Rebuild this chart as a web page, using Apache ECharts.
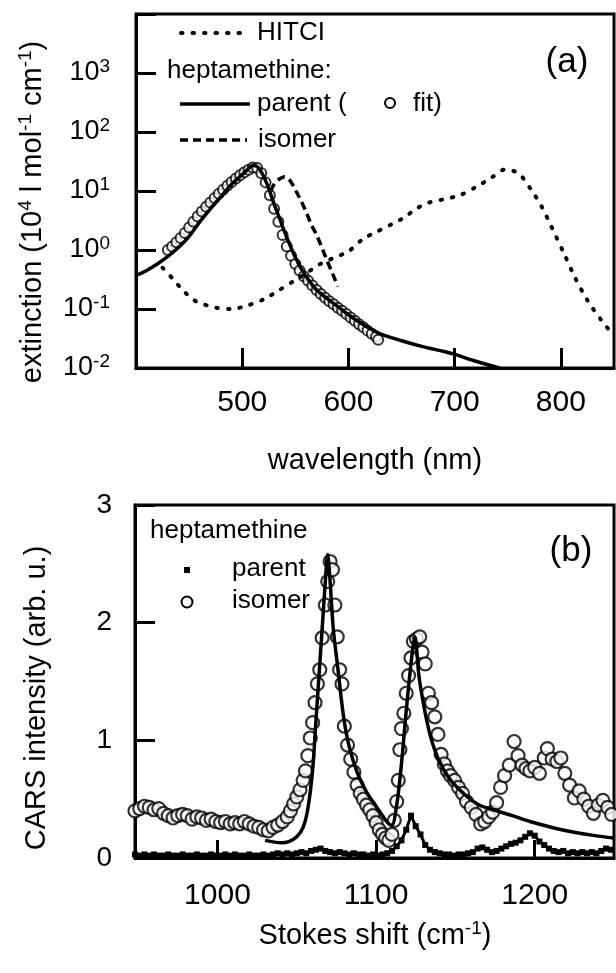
<!DOCTYPE html>
<html>
<head>
<meta charset="utf-8">
<script src="https://cdn.jsdelivr.net/npm/echarts@6/dist/echarts.min.js"></script>
<style>
html, body { margin: 0; padding: 0; background: #fff; }
#chart { width: 616px; height: 973px; }
</style>
</head>
<body>
<div id="chart"></div>
<script>
// ---- panel (a): absorption, wavelength in nm, extinction in 1e4 l/mol/cm ----
const hitciX = [425, 435, 445, 455, 465, 475, 490, 505, 520, 535, 550, 560, 572, 585, 600, 614, 627, 641, 653, 663, 675, 689, 705, 719, 735, 747, 760, 772, 782, 791, 803, 813, 825, 838, 850];
const hitciY = [0.5, 0.32, 0.2, 0.14, 0.118, 0.105, 0.1, 0.115, 0.145, 0.21, 0.31, 0.4, 0.56, 0.72, 0.95, 1.55, 2.05, 2.75, 3.6, 4.9, 6.3, 7.2, 8.5, 11.4, 17, 23, 20, 10.5, 5.4, 2.5, 0.87, 0.35, 0.14, 0.065, 0.035];

const parentFitX = [400, 410, 420, 430, 440, 450, 460, 470, 480, 490, 500, 505, 510, 515, 520, 525, 530, 535, 540, 545, 550, 555, 560, 565, 570, 580, 590, 600, 610, 620, 630, 650, 670, 690, 700, 720, 742];
const parentFitY = [0.37, 0.45, 0.58, 0.78, 1.1, 1.7, 3.0, 5.0, 8.0, 13, 19, 23, 27, 25, 18, 11, 6, 3.5, 2.0, 1.2, 0.75, 0.5, 0.36, 0.27, 0.21, 0.15, 0.11, 0.08, 0.06, 0.047, 0.038, 0.029, 0.023, 0.019, 0.017, 0.013, 0.01];

const parentAbsX = [430, 434, 438, 442, 446, 450, 454, 458, 462, 466, 470, 474, 478, 482, 486, 490, 494, 498, 502, 506, 510, 514, 518, 522, 526, 530, 534, 538, 542, 546, 550, 554, 558, 562, 566, 570, 574, 578, 582, 586, 590, 594, 598, 602, 606, 610, 614, 618, 622, 626, 628];
const parentAbsY = [1.0, 1.15, 1.35, 1.6, 1.95, 2.4, 3.0, 3.7, 4.5, 5.4, 6.4, 7.6, 9.0, 10.5, 12.3, 14.2, 16.3, 18.5, 20.8, 23, 25, 24.5, 20, 14, 8.5, 5.0, 3.0, 1.8, 1.15, 0.8, 0.58, 0.45, 0.36, 0.3, 0.25, 0.21, 0.18, 0.155, 0.135, 0.12, 0.105, 0.093, 0.082, 0.072, 0.063, 0.055, 0.049, 0.043, 0.038, 0.034, 0.03];

const isomerAbsX = [527, 530, 535, 540, 545, 550, 555, 560, 565, 570, 575, 580, 585, 590];
const isomerAbsY = [10, 13, 16, 17.5, 15, 10.5, 7, 4.5, 2.7, 1.8, 1.1, 0.65, 0.4, 0.24];

const absTicks = [500, 600, 700, 800];

// ---- panel (b): CARS, Stokes shift in cm-1 ----
const fitX = [1030, 1040, 1045, 1050, 1054, 1057, 1060, 1062, 1064, 1066, 1068, 1069.5, 1071, 1073, 1076, 1079.5, 1083, 1088, 1094, 1100, 1104, 1108, 1110, 1113, 1116, 1119, 1122, 1124.5, 1127, 1130, 1134, 1139, 1146, 1155, 1165, 1176, 1186, 1197, 1217, 1238, 1250];
const fitY = [0.15, 0.13, 0.14, 0.18, 0.26, 0.42, 0.75, 1.15, 1.55, 1.95, 2.35, 2.58, 2.35, 1.95, 1.6, 1.2, 0.95, 0.73, 0.56, 0.44, 0.36, 0.29, 0.28, 0.45, 0.8, 1.25, 1.65, 1.88, 1.55, 1.3, 1.05, 0.85, 0.68, 0.55, 0.45, 0.4, 0.36, 0.31, 0.24, 0.19, 0.17];

const isomerX = [948, 951, 954, 957, 960, 963, 966, 969, 972, 975, 978, 981, 984, 987, 990, 993, 996, 999, 1002, 1005, 1008, 1011, 1014, 1017, 1020, 1023, 1026, 1029, 1032, 1035, 1038, 1041, 1044, 1046, 1048, 1050, 1052, 1054, 1055.5, 1057, 1058.5, 1060, 1061.5, 1063, 1064.5, 1066, 1068, 1069.5, 1071, 1072.5, 1074, 1075.5, 1077, 1078.5, 1080, 1082, 1084, 1086, 1088, 1090, 1092, 1094, 1096, 1098, 1100, 1102, 1104, 1106, 1108, 1110, 1111.5, 1113, 1114, 1115, 1116, 1117.5, 1119, 1120.5, 1122, 1123.5, 1125.5, 1127.5, 1129, 1131, 1133, 1135, 1137, 1139, 1141, 1143, 1145, 1147, 1149.5, 1152, 1154.5, 1157, 1160, 1163, 1166, 1168.5, 1171, 1173.5, 1176, 1178.5, 1181, 1184, 1187, 1189.5, 1192, 1194.5, 1197, 1200, 1203, 1206, 1208, 1211, 1214, 1216.5, 1219, 1222, 1225, 1228, 1231, 1234, 1237, 1240, 1243, 1246, 1248.5];
const isomerY = [0.40, 0.42, 0.44, 0.43, 0.41, 0.42, 0.38, 0.36, 0.34, 0.36, 0.37, 0.36, 0.33, 0.35, 0.34, 0.32, 0.33, 0.31, 0.30, 0.31, 0.29, 0.30, 0.29, 0.31, 0.29, 0.27, 0.26, 0.24, 0.23, 0.26, 0.28, 0.31, 0.35, 0.40, 0.46, 0.52, 0.58, 0.66, 0.74, 0.87, 1.02, 1.15, 1.32, 1.48, 1.6, 1.87, 2.15, 2.35, 2.52, 2.45, 2.15, 1.88, 1.60, 1.48, 1.12, 0.96, 0.84, 0.73, 0.62, 0.55, 0.50, 0.45, 0.41, 0.36, 0.30, 0.24, 0.20, 0.17, 0.15, 0.20, 0.32, 0.48, 0.66, 0.92, 1.10, 1.23, 1.40, 1.55, 1.70, 1.84, 1.86, 1.88, 1.75, 1.65, 1.40, 1.32, 1.20, 1.05, 0.88, 0.80, 0.74, 0.70, 0.66, 0.60, 0.55, 0.48, 0.43, 0.37, 0.29, 0.31, 0.35, 0.39, 0.47, 0.60, 0.70, 0.79, 0.99, 0.87, 0.79, 0.76, 0.74, 0.77, 0.72, 0.85, 0.93, 0.84, 0.82, 0.85, 0.72, 0.62, 0.51, 0.57, 0.50, 0.44, 0.38, 0.45, 0.49, 0.43, 0.37];

const parentX = [948, 951, 954, 957, 960, 963, 966, 969, 972, 975, 978, 981, 984, 987, 990, 993, 996, 999, 1002, 1005, 1008, 1011, 1014, 1017, 1020, 1023, 1026, 1029, 1032, 1035, 1038, 1041, 1044, 1047, 1050, 1053, 1056, 1059, 1062, 1065, 1068, 1071, 1074, 1077, 1080, 1083, 1086, 1089, 1092, 1095, 1098, 1101, 1104, 1107, 1110, 1113, 1116, 1119, 1122, 1125, 1128, 1131, 1134, 1137, 1140, 1143, 1146, 1149, 1152, 1155, 1158, 1161, 1164, 1167, 1170, 1173, 1176, 1179, 1182, 1185, 1188, 1191, 1194, 1197, 1200, 1203, 1206, 1209, 1212, 1215, 1218, 1221, 1224, 1227, 1230, 1233, 1236, 1239, 1242, 1245, 1248];
const parentY = [0.03, 0.02, 0.03, 0.02, 0.03, 0.02, 0.02, 0.03, 0.02, 0.02, 0.03, 0.02, 0.02, 0.03, 0.02, 0.02, 0.03, 0.02, 0.02, 0.03, 0.02, 0.03, 0.02, 0.02, 0.03, 0.02, 0.02, 0.03, 0.02, 0.03, 0.04, 0.03, 0.04, 0.03, 0.04, 0.05, 0.04, 0.06, 0.07, 0.08, 0.06, 0.05, 0.04, 0.05, 0.04, 0.03, 0.04, 0.03, 0.03, 0.02, 0.03, 0.02, 0.03, 0.04, 0.06, 0.10, 0.15, 0.24, 0.36, 0.27, 0.20, 0.11, 0.07, 0.05, 0.04, 0.03, 0.03, 0.02, 0.03, 0.03, 0.04, 0.05, 0.08, 0.09, 0.07, 0.05, 0.06, 0.08, 0.10, 0.12, 0.13, 0.15, 0.18, 0.21, 0.19, 0.14, 0.11, 0.08, 0.06, 0.05, 0.06, 0.04, 0.05, 0.04, 0.05, 0.04, 0.05, 0.04, 0.06, 0.08, 0.07];

const carsTicks = [1000, 1100, 1200];

const FONT = '"Liberation Sans", Arial, Helvetica, sans-serif';

function pairs(xs, ys) {
    return xs.map((x, i) => [x, ys[i]]);
}

function powLabel(v) {
    let e = Math.round(Math.log10(v));
    if (e > 3) {
        return '';
    }
    return '{b|10}{s|' + e + '}';
}

let axisLineStyle = { color: '#000', width: 3 };

function txt(x, y, text, size, align) {
    return {
        type: 'text', x: x, y: y, z: 100,
        style: {
            text: text, fill: '#000', fontSize: size, fontFamily: FONT,
            align: align || 'left', textAlign: align || 'left',
            verticalAlign: 'middle', textVerticalAlign: 'middle'
        }
    };
}

let titleRich = {
    t: { fontSize: 29, fontFamily: FONT, color: '#000', lineHeight: 34 },
    s: { fontSize: 19, fontFamily: FONT, color: '#000', verticalAlign: 'top', lineHeight: 19 }
};

let chart = echarts.init(document.getElementById('chart'));
let option = {
    animation: false,
    backgroundColor: '#fff',
    grid: [
        { left: 136, top: 14, right: 2, height: 354, show: true, borderColor: '#000', borderWidth: 3 },
        { left: 135, top: 505, right: 2, height: 353, show: true, borderColor: '#000', borderWidth: 3 }
    ],
    xAxis: [
        {
            gridIndex: 0, type: 'value', min: 400, max: 850, interval: 100,
            axisLine: { lineStyle: axisLineStyle },
            axisTick: { inside: true, length: 20, customValues: absTicks, lineStyle: { color: '#000', width: 3 } },
            axisLabel: { customValues: absTicks, formatter: (v) => String(v), fontSize: 30, fontFamily: FONT, color: '#000', margin: 20 },
            splitLine: { show: false }
        },
        {
            gridIndex: 1, type: 'value', min: 948, max: 1250,
            axisLine: { lineStyle: axisLineStyle },
            axisTick: { inside: true, length: 18, customValues: carsTicks, lineStyle: { color: '#000', width: 3 } },
            axisLabel: { customValues: carsTicks, formatter: (v) => String(v), fontSize: 30, fontFamily: FONT, color: '#000', margin: 23 },
            splitLine: { show: false }
        }
    ],
    yAxis: [
        {
            gridIndex: 0, type: 'log', logBase: 10, min: 0.01, max: 10000, splitNumber: 6,
            axisLine: { lineStyle: axisLineStyle },
            axisTick: { inside: true, length: 20, lineStyle: { color: '#000', width: 3 } },
            axisLabel: {
                formatter: powLabel, margin: 26,
                rich: {
                    b: { fontSize: 27, fontFamily: FONT, color: '#000', lineHeight: 32 },
                    s: { fontSize: 19, fontFamily: FONT, color: '#000', verticalAlign: 'top', lineHeight: 19 }
                }
            },
            splitLine: { show: false },
            minorTick: { show: false }
        },
        {
            gridIndex: 1, type: 'value', min: 0, max: 3, interval: 1,
            axisLine: { lineStyle: axisLineStyle },
            axisTick: { inside: true, length: 20, lineStyle: { color: '#000', width: 3 } },
            axisLabel: { fontSize: 28, fontFamily: FONT, color: '#000', margin: 23 },
            splitLine: { show: false }
        }
    ],
    series: [
        {
            name: 'HITCI', type: 'line', xAxisIndex: 0, yAxisIndex: 0,
            data: pairs(hitciX, hitciY), showSymbol: false, smooth: 0.3,
            lineStyle: { color: '#000', width: 4, type: [1.5, 10], cap: 'round' }, z: 3
        },
        {
            name: 'parent abs', type: 'scatter', xAxisIndex: 0, yAxisIndex: 0,
            data: pairs(parentAbsX, parentAbsY), symbol: 'circle', symbolSize: 10,
            itemStyle: { color: '#fff', borderColor: '#000', borderWidth: 2 }, z: 2
        },
        {
            name: 'parent fit', type: 'line', xAxisIndex: 0, yAxisIndex: 0,
            data: pairs(parentFitX, parentFitY), showSymbol: false, smooth: 0.3,
            lineStyle: { color: '#000', width: 3.5 }, z: 4
        },
        {
            name: 'isomer abs', type: 'line', xAxisIndex: 0, yAxisIndex: 0,
            data: pairs(isomerAbsX, isomerAbsY), showSymbol: false, smooth: 0.3,
            lineStyle: { color: '#000', width: 3.5, type: [8, 5] }, z: 4
        },
        {
            name: 'parent CARS', type: 'line', xAxisIndex: 1, yAxisIndex: 1,
            data: pairs(parentX, parentY), symbol: 'rect', symbolSize: 6, showAllSymbol: true,
            itemStyle: { color: '#000' }, lineStyle: { color: '#000', width: 3 }, z: 3
        },
        {
            name: 'isomer CARS', type: 'scatter', xAxisIndex: 1, yAxisIndex: 1,
            data: pairs(isomerX, isomerY), symbol: 'circle', symbolSize: 13,
            itemStyle: { color: '#fff', borderColor: '#000', borderWidth: 2.2 }, z: 2
        },
        {
            name: 'fit CARS', type: 'line', xAxisIndex: 1, yAxisIndex: 1,
            data: pairs(fitX, fitY), showSymbol: false, smooth: 0.3,
            lineStyle: { color: '#000', width: 3.5 }, z: 4
        }
    ],
    graphic: [
        // axis titles
        {
            type: 'text', x: 33, y: 212, rotation: Math.PI / 2, z: 100,
            style: {
                text: '{t|extinction (10}{s|4}{t| l mol}{s|-1}{t| cm}{s|-1}{t|)}', rich: titleRich,
                align: 'center', textAlign: 'center', verticalAlign: 'middle', textVerticalAlign: 'middle'
            }
        },
        txt(375, 461, 'wavelength (nm)', 29, 'center'),
        {
            type: 'text', x: 37, y: 698, rotation: Math.PI / 2, z: 100,
            style: {
                text: '{t|CARS intensity (arb. u.)}', rich: titleRich,
                align: 'center', textAlign: 'center', verticalAlign: 'middle', textVerticalAlign: 'middle'
            }
        },
        {
            type: 'text', x: 375, y: 936, z: 100,
            style: {
                text: '{t|Stokes shift (cm}{s|-1}{t|)}', rich: titleRich,
                align: 'center', textAlign: 'center', verticalAlign: 'middle', textVerticalAlign: 'middle'
            }
        },
        // legend (a)
        { type: 'line', z: 100, shape: { x1: 181, y1: 33, x2: 247, y2: 33 }, style: { stroke: '#000', lineWidth: 4, lineDash: [1.5, 10], lineCap: 'round' } },
        txt(257, 33, 'HITCI', 26),
        txt(167, 71, 'heptamethine:', 26),
        { type: 'line', z: 100, shape: { x1: 180, y1: 104, x2: 250, y2: 104 }, style: { stroke: '#000', lineWidth: 3.5 } },
        txt(257, 104, 'parent (', 26),
        { type: 'circle', z: 100, shape: { cx: 390, cy: 103, r: 5 }, style: { fill: '#fff', stroke: '#000', lineWidth: 2 } },
        txt(413, 104, 'fit)', 26),
        { type: 'line', z: 100, shape: { x1: 180, y1: 140, x2: 247, y2: 140 }, style: { stroke: '#000', lineWidth: 3.5, lineDash: [8, 5] } },
        txt(258, 140, 'isomer', 26),
        txt(567, 62, '(a)', 35, 'center'),
        // legend (b)
        txt(150, 531, 'heptamethine', 26),
        { type: 'rect', z: 100, shape: { x: 184, y: 567, width: 6, height: 6 }, style: { fill: '#000' } },
        txt(232, 569, 'parent', 26),
        { type: 'circle', z: 100, shape: { cx: 187, cy: 602, r: 5.5 }, style: { fill: '#fff', stroke: '#000', lineWidth: 2 } },
        txt(232, 601, 'isomer', 26),
        txt(571, 551, '(b)', 35, 'center')
    ]
};
chart.setOption(option);
window.addEventListener('resize', function () {
    chart.resize();
});
</script>
</body>
</html>
